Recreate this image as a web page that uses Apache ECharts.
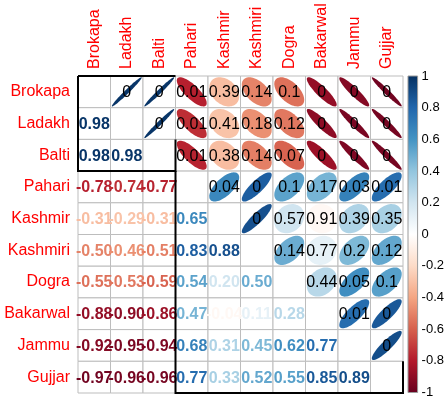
<!DOCTYPE html>
<html>
<head>
<meta charset="utf-8">
<script src="https://cdn.jsdelivr.net/npm/echarts@6/dist/echarts.min.js"></script>
<style>
  html, body { margin: 0; padding: 0; background: #fff; }
  #main { width: 447px; height: 399px; }
</style>
</head>
<body>
<div id="main"></div>
<script>
var groups = ['Brokapa', 'Ladakh', 'Balti', 'Pahari', 'Kashmir', 'Kashmiri', 'Dogra', 'Bakarwal', 'Jammu', 'Gujjar'];

// correlations, lower triangle, row by row
var corrLower = [
    [],
    [0.98],
    [0.98, 0.98],
    [-0.78, -0.74, -0.77],
    [-0.31, -0.29, -0.31, 0.65],
    [-0.50, -0.46, -0.51, 0.83, 0.88],
    [-0.55, -0.53, -0.59, 0.54, 0.20, 0.50],
    [-0.88, -0.90, -0.86, 0.47, -0.04, 0.11, 0.28],
    [-0.92, -0.95, -0.94, 0.68, 0.31, 0.45, 0.62, 0.77],
    [-0.97, -0.96, -0.96, 0.77, 0.33, 0.52, 0.55, 0.85, 0.89]
];

// p-values, upper triangle, row by row (columns right of the diagonal)
var pUpper = [
    [0, 0, 0.01, 0.39, 0.14, 0.1, 0, 0, 0],
    [0, 0.01, 0.41, 0.18, 0.12, 0, 0, 0],
    [0.01, 0.38, 0.14, 0.07, 0, 0, 0],
    [0.04, 0, 0.1, 0.17, 0.03, 0.01],
    [0, 0.57, 0.91, 0.39, 0.35],
    [0.14, 0.77, 0.2, 0.12],
    [0.44, 0.05, 0.1],
    [0.01, 0],
    [0],
    []
];

// hclust rectangles (first index, last index)
var clusters = [[0, 2], [3, 9]];

var colorRange = [-1, 1];

var palette = ['#67001F', '#B2182B', '#D6604D', '#F4A582', '#FDDBC7', '#FFFFFF',
               '#D1E5F0', '#92C5DE', '#4393C3', '#2166AC', '#053061'];

function corrColor(r) {
    return echarts.color.lerp((r + 1) / 2, palette);
}

/* cells: [col, row, r, kind(0 diag,1 lower,2 upper), p] */
var cells = [];
for (var i = 0; i < groups.length; i++) {
    for (var j = 0; j < groups.length; j++) {
        if (j < i) {
            cells.push([j, i, corrLower[i][j], 1, 0]);
        } else if (j > i) {
            cells.push([j, i, corrLower[j][i], 2, pUpper[i][j - i - 1]]);
        } else {
            cells.push([j, i, 0, 0, 0]);
        }
    }
}

var chart = echarts.init(document.getElementById('main'));

function renderCell(params, api) {
    var c = api.coord([api.value(0), api.value(1)]);
    var s = api.size([1, 1]);
    var kind = api.value(3);
    var r = api.value(2);
    var children = [{
        type: 'rect',
        shape: { x: c[0] - s[0] / 2, y: c[1] - s[1] / 2, width: s[0], height: s[1] },
        style: { fill: '#fff', stroke: '#bdbdbd', lineWidth: 1 }
    }];
    if (kind === 2) {
        var a = Math.acos(r), pts = [];
        for (var k = 0; k < 72; k++) {
            var t = k / 72 * 2 * Math.PI;
            pts.push([c[0] + Math.cos(t + a / 2) / 2 * s[0] * 0.92,
                      c[1] - Math.cos(t - a / 2) / 2 * s[1] * 0.92]);
        }
        children.push({
            type: 'polygon',
            shape: { points: pts },
            style: { fill: corrColor(r) }
        });
    }
    return { type: 'group', children: children };
}

function renderText(params, api) {
    var kind = api.value(3);
    if (kind === 0) return null;
    var c = api.coord([api.value(0), api.value(1)]);
    var r = api.value(2);
    var lower = kind === 1;
    return {
        type: 'text',
        style: {
            text: lower ? r.toFixed(2) : String(api.value(4)),
            x: c[0], y: c[1] + 1,
            align: 'center', verticalAlign: 'middle',
            fill: lower ? corrColor(r) : '#000',
            fontSize: 16,
            fontWeight: lower ? 'bold' : 'normal',
            fontFamily: '"Liberation Sans", Arial, sans-serif'
        }
    };
}

function renderBox(params, api) {
    var a = api.value(0), b = api.value(1);
    var s = api.size([1, 1]);
    var p0 = api.coord([a, a]), p1 = api.coord([b, b]);
    var x0 = p0[0] - s[0] / 2, y0 = p0[1] - s[1] / 2;
    var x1 = p1[0] + s[0] / 2, y1 = p1[1] + s[1] / 2;
    var st = { stroke: '#000', lineWidth: 2, fill: null };
    var lines = [
        { type: 'polyline', shape: { points: [[x0, y0], [x0, y1], [x1, y1], [x1, y1 - s[1]]] }, style: st }
    ];
    if (a === 0) {
        lines.push({ type: 'line', shape: { x1: x0, y1: y0, x2: x1, y2: y0 }, style: st });
    }
    return { type: 'group', children: lines };
}

function renderBar(params, api) {
    var top = api.coord([0, api.value(2)])[1];
    var bottom = api.coord([0, api.value(1)])[1];
    var cs = params.coordSys;
    var stops = palette.map(function (col, idx) {
        return { offset: 1 - idx / (palette.length - 1), color: col };
    }).reverse();
    return {
        type: 'rect',
        shape: { x: cs.x, y: top, width: cs.width, height: bottom - top },
        style: {
            fill: new echarts.graphic.LinearGradient(0, 0, 0, 1, stops),
            stroke: '#9a9a9a', lineWidth: 1
        }
    };
}

var option = {
    animation: false,
    grid: [
        { left: 78, top: 76, width: 325, height: 317 },
        { left: 408, top: 76, width: 11, height: 317 }
    ],
    xAxis: [{
        type: 'category',
        data: groups,
        position: 'top',
        axisLine: { show: false },
        axisTick: { show: false },
        splitLine: { show: false },
        axisLabel: {
            rotate: -90, margin: 7, color: '#ff0000', fontSize: 16,
            fontFamily: '"Liberation Sans", Arial, sans-serif'
        }
    }, {
        gridIndex: 1, type: 'value', min: 0, max: 1, show: false
    }],
    yAxis: [{
        type: 'category',
        data: groups,
        inverse: true,
        axisLine: { show: false },
        axisTick: { show: false },
        splitLine: { show: false },
        axisLabel: {
            margin: 8, color: '#ff0000', fontSize: 16,
            fontFamily: '"Liberation Sans", Arial, sans-serif'
        }
    }, {
        gridIndex: 1, type: 'value', min: -1, max: 1, interval: 0.2,
        position: 'right',
        axisLine: { show: false },
        axisTick: { show: true, length: 3, lineStyle: { color: '#333' } },
        splitLine: { show: false },
        axisLabel: {
            margin: 4, color: '#000', fontSize: 13,
            fontFamily: '"Liberation Sans", Arial, sans-serif'
        }
    }],
    series: [{
        type: 'custom',
        renderItem: renderCell,
        data: cells,
        encode: { x: 0, y: 1 },
        z: 1
    }, {
        type: 'custom',
        renderItem: renderText,
        data: cells,
        encode: { x: 0, y: 1 },
        z: 2
    }, {
        type: 'custom',
        renderItem: renderBox,
        data: clusters,
        encode: { x: 0, y: 1 },
        z: 3
    }, {
        type: 'custom',
        xAxisIndex: 1,
        yAxisIndex: 1,
        renderItem: renderBar,
        data: [[0, colorRange[0], colorRange[1]]],
        encode: { x: 0, y: [1, 2] },
        z: 1
    }]
};

chart.setOption(option);
</script>
</body>
</html>
